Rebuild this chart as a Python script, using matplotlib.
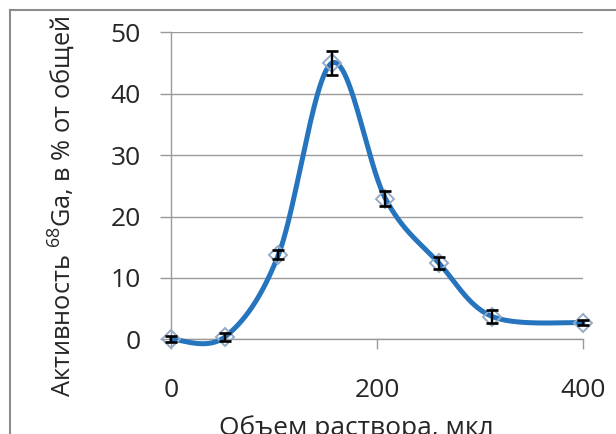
import numpy as np
import matplotlib
matplotlib.use('Agg')
import matplotlib.pyplot as plt
from matplotlib.lines import Line2D

# elution profile: solution volume vs. 68Ga activity
volume = [0, 52, 104, 156, 208, 260, 312, 400]
activity = [0.0, 0.4, 13.8, 45.0, 22.9, 12.4, 3.7, 2.7]
errors = [0.5, 0.7, 0.8, 2.0, 1.2, 1.0, 1.0, 0.4]

x_ticks = [0, 200, 400]
y_ticks = [0, 10, 20, 30, 40, 50]

plt.rcParams['font.family'] = ['Open Sans', 'DejaVu Sans']
plt.rcParams['mathtext.fontset'] = 'custom'
plt.rcParams['mathtext.rm'] = 'Open Sans'


def smooth_curve(x, y, n=60):
    # Catmull-Rom style bezier through the points (like a spreadsheet "smoothed line")
    p = np.column_stack([x, y]).astype(float)
    p = np.vstack([p[0], p, p[-1]])
    out = []
    t = np.linspace(0, 1, n)[:, None]
    for i in range(1, len(p) - 2):
        p0, p1, p2, p3 = p[i - 1], p[i], p[i + 1], p[i + 2]
        c1 = p1 + (p2 - p0) / 6.0
        c2 = p2 - (p3 - p1) / 6.0
        seg = ((1 - t) ** 3) * p1 + 3 * ((1 - t) ** 2) * t * c1 \
            + 3 * (1 - t) * t ** 2 * c2 + t ** 3 * p2
        out.append(seg)
    out = np.vstack(out)
    return out[:, 0], out[:, 1]


W, H = 616, 434
fig = plt.figure(figsize=(W / 100, H / 100), dpi=100)
ax = fig.add_axes([171.5 / W, 1 - 339.3 / H, (583 - 171.5) / W, (339.3 - 32.3) / H])

grey = '#9a9a9a'
txt = '#262626'
sx, sy = smooth_curve(volume, activity)
ax.plot(sx, sy, color='#2674bd', lw=3.6, solid_capstyle='round', zorder=3, clip_on=False)
ax.plot(volume, activity, ls='none', marker='D', ms=9.5, mfc='none', mec='#95aac6',
        mew=1.4, zorder=4, clip_on=False)
ax.errorbar(volume, activity, yerr=errors, fmt='none', ecolor='black', elinewidth=1.7,
            capsize=4.5, capthick=1.9, zorder=5, clip_on=False)

ax.set_xlim(0, 400)
ax.set_ylim(0, 50)
ax.set_xticks(x_ticks)
ax.set_yticks(y_ticks)
ax.yaxis.grid(True, color=grey, lw=1.0)
ax.set_axisbelow(True)
for s in ['top', 'right']:
    ax.spines[s].set_visible(False)
for s in ['left', 'bottom']:
    ax.spines[s].set_color(grey)
    ax.spines[s].set_linewidth(1.0)
ax.tick_params(axis='y', direction='out', length=8, width=1.0, color=grey,
               pad=14, labelsize=19, labelcolor=txt)
ax.tick_params(axis='x', direction='out', length=7, width=1.0, color=grey,
               pad=21, labelsize=19, labelcolor=txt)

fig.text(62 / W, 1 - 206 / H, 'Активность $\\mathregular{^{68}}$Ga, в % от общей',
         rotation=90, ha='center', va='center', fontsize=18.3, color=txt)
fig.text(356 / W, 1 - 428 / H, 'Объем раствора, мкл', ha='center', va='center',
         fontsize=19, color=txt)

# outer chart frame
fig.add_artist(Line2D([10 / W, 1.0], [1 - 10 / H, 1 - 10 / H], color='#8c8c8c', lw=1.5,
                      transform=fig.transFigure))
fig.add_artist(Line2D([10 / W, 10 / W], [1 - 10 / H, 0.0], color='#8c8c8c', lw=1.5,
                      transform=fig.transFigure))

fig.savefig('out.png', dpi=100, facecolor='white')
